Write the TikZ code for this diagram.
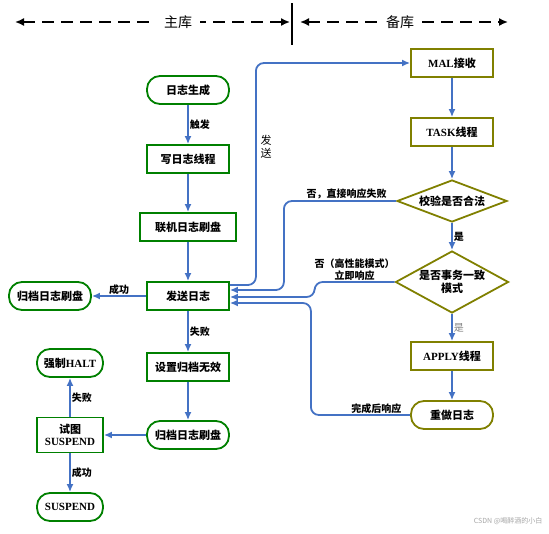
\documentclass[tikz,border=0pt]{standalone}
\usepackage{fontspec}
\setmainfont{Noto Sans CJK SC}
\newfontfamily\latn{Liberation Serif}
\usetikzlibrary{arrows.meta,shapes.geometric}
\definecolor{linkblue}{RGB}{68,114,196}
\definecolor{mainline}{RGB}{0,128,0}
\definecolor{stbyline}{RGB}{128,128,0}

\begin{document}
\begin{tikzpicture}[x=1pt,y=-1pt,font=\fontsize{11}{13}\selectfont\bfseries,>={Latex[length=8pt,width=7pt]},
  pbox/.style={draw=mainline,line width=1.8pt,fill=white,minimum width=82pt,minimum height=28pt,inner sep=2pt,align=center},
  pround/.style={pbox,rounded corners=13pt},
  sbox/.style={pbox,draw=stbyline},
  sround/.style={sbox,rounded corners=13pt},
  sdiam/.style={diamond,draw=stbyline,line width=1.8pt,fill=white,inner sep=-3pt,align=center},
  flow/.style={draw=linkblue,line width=1.8pt,->,rounded corners=8pt},
  lbl/.style={font=\fontsize{10}{12}\selectfont\bfseries,inner sep=1pt},
  hdr/.style={black,line width=1.6pt,dash pattern=on 12pt off 7pt,{Latex[length=9pt,width=8pt]}-{Latex[length=9pt,width=8pt]}}]
  \useasboundingbox (0,0) rectangle (549,533);

  % header: primary | standby
  \coordinate (ml) at (15,22);
  \coordinate (mr) at (290,22);
  \coordinate (sl) at (300,22);
  \coordinate (sr) at (508,22);
  \coordinate (dt) at (292,3);
  \coordinate (db) at (292,45);
  \draw[hdr] (ml) -- (mr);
  \draw[hdr] (sl) -- (sr);
  \draw[line width=1.6pt] (dt) -- (db);
  \node[fill=white,inner xsep=8pt,font=\fontsize{14}{16}\selectfont] (mainlbl) at (178,22) {主库};
  \node[fill=white,inner xsep=6pt,font=\fontsize{14}{16}\selectfont] (stbylbl) at (400,22) {备库};

  % primary side
  \node[pround] (gen) at (188,90) {日志生成};
  \node[pbox] (wrt) at (188,159) {写日志线程};
  \node[pbox,minimum width=96pt] (onl) at (188,227) {联机日志刷盘};
  \node[pbox] (send) at (188,296) {发送日志};
  \node[pround] (arcl) at (50,296) {归档日志刷盘};
  \node[pbox] (inval) at (188,367) {设置归档无效};
  \node[pround] (arcb) at (188,435) {归档日志刷盘};
  \node[pbox,minimum width=66pt,minimum height=35pt,inner sep=1pt,font=\fontsize{11}{12.5}\selectfont\bfseries] (try) at (70,435) {试图\\{\latn SUSPEND}};
  \node[pround,minimum width=66pt] (halt) at (70,363) {强制{\latn HALT}};
  \node[pround,minimum width=66pt] (susp) at (70,507) {\latn SUSPEND};

  % standby side
  \node[sbox] (mal) at (452,63) {{\latn MAL}接收};
  \node[sbox] (task) at (452,132) {{\latn TASK}线程};
  \node[sdiam,minimum width=110pt,minimum height=42pt,aspect=2.6] (chk) at (452,201) {校验是否合法};
  \node[sdiam,minimum width=113pt,minimum height=62pt,aspect=1.8] (mode) at (452,282) {是否事务一致\\模式};
  \node[sbox] (apply) at (452,356) {{\latn APPLY}线程};
  \node[sround] (redo) at (452,415) {重做日志};

  \draw[flow] (gen) -- node[lbl,right]{触发} (wrt);
  \draw[flow] (wrt) -- (onl);
  \draw[flow] (onl) -- (send);
  \draw[flow] (send) -- node[lbl,above]{成功} (arcl);
  \draw[flow] (send) -- node[lbl,right]{失败} (inval);
  \draw[flow] (inval) -- (arcb);
  \draw[flow] (arcb) -- (try);
  \draw[flow] (try) -- node[lbl,right]{失败} (halt);
  \draw[flow] (try) -- node[lbl,right]{成功} (susp);

  \draw[flow] ([yshift=11pt]send.east) -- ++(26,0) |- (mal.west);
  \node[lbl,align=center,font=\fontsize{11}{13}\selectfont] (sendlbl) at (266,147) {发\\送};
  \draw[flow] (mal) -- (task);
  \draw[flow] (task) -- (chk);
  \draw[flow] (chk) -- node[lbl,right]{是} (mode);
  \draw[flow] (mode) -- node[lbl,right,text=gray,font=\fontsize{10}{12}\selectfont]{是} (apply);
  \draw[flow] (apply) -- (redo);

  \draw[flow] (chk.west) -| node[lbl,above,pos=0.22]{否，直接响应失败} ([xshift=54pt,yshift=6pt]send.east) -- ([yshift=6pt]send.east);
  \draw[flow] (mode.west) -- node[lbl,above,align=center]{否（高性能模式）\\立即响应} ++(-80,0) |- ([yshift=-1pt]send.east);
  \draw[flow] (redo.west) -| node[lbl,above,pos=0.17]{完成后响应} ([xshift=81pt,yshift=-7pt]send.east) -- ([yshift=-7pt]send.east);

  \node[font=\fontsize{7}{8}\selectfont,text=gray!70,anchor=east] (wm) at (546,521) {CSDN @喝醉酒的小白};
\end{tikzpicture}
\end{document}
